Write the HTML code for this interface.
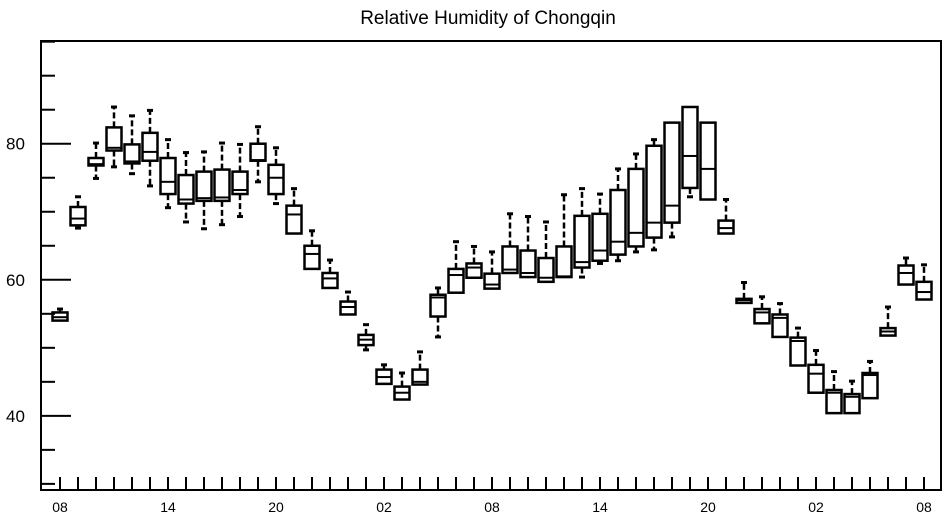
<!DOCTYPE html>
<html><head><meta charset="utf-8"><style>
html,body{margin:0;padding:0;background:#fff;}
svg{display:block;font-family:"Liberation Sans",sans-serif;}
</style></head><body>
<svg id="chart" width="947" height="520" viewBox="0 0 947 520" xmlns="http://www.w3.org/2000/svg">
<text x="488" y="24" text-anchor="middle" font-size="19">Relative Humidity of Chongqin</text>
<rect x="41" y="41" width="900" height="449" fill="none" stroke="#000" stroke-width="2"/>
<g id="axes"></g>
<g id="boxes"></g>
</svg>
<script>
const xLabels = ["08","14","20","02","08","14","20","02","08"];
const yTicks = [40,60,80];
const lows  = [54.0,67.6,74.9,76.6,75.6,73.8,70.6,68.5,67.5,68.1,69.3,74.4,71.2,66.8,61.6,58.8,54.9,49.7,44.7,42.4,44.6,51.6,58.1,60.3,58.7,61.0,60.4,59.7,60.4,60.4,62.4,62.8,64.1,64.4,66.3,72.2,71.8,66.8,56.6,53.6,51.6,47.4,43.4,40.4,40.4,42.6,51.8,59.3,57.1];
const q1s   = [54.0,68.0,76.8,79.0,77.1,77.5,72.6,71.2,71.6,71.6,72.6,77.5,72.6,66.8,61.6,58.8,54.9,50.4,44.7,42.4,44.6,54.6,58.1,60.3,58.7,61.0,60.4,59.7,60.4,61.8,62.8,63.7,64.9,66.2,68.4,73.5,71.8,66.8,56.6,53.6,51.6,47.4,43.4,40.4,40.4,42.6,51.8,59.3,57.1];
const medians=[54.5,69.0,77.0,79.4,77.4,78.8,74.4,71.8,72.0,72.1,73.2,77.6,75.0,69.6,63.8,60.2,56.0,51.2,45.7,43.4,45.0,57.4,60.7,61.8,59.3,61.5,61.0,60.3,60.5,62.6,64.3,65.6,66.9,68.4,70.9,78.2,76.3,67.6,57.0,55.2,54.4,51.0,46.2,43.4,42.8,46.0,52.4,61.0,58.2];
const q3s   = [55.2,70.7,77.9,82.4,79.9,81.6,77.9,75.4,75.9,76.2,75.9,80.0,76.9,70.9,65.0,61.0,56.8,51.9,46.8,44.3,46.8,57.8,61.6,62.4,60.9,64.9,64.3,63.2,64.9,69.4,69.7,73.2,76.3,79.7,83.1,85.4,83.1,68.7,57.2,55.7,54.9,51.5,47.5,43.8,43.2,46.3,52.9,62.1,59.7];
const highs = [55.7,72.2,80.1,85.4,84.1,84.9,80.6,78.7,78.8,80.1,79.9,82.5,79.4,73.4,67.2,62.9,58.2,53.4,47.5,46.3,49.4,58.8,65.6,64.9,64.1,69.7,69.3,68.5,72.5,73.4,72.6,76.3,78.5,80.6,82.9,85.1,83.0,71.8,59.6,57.5,56.5,52.9,49.6,46.5,45.1,48.0,56.0,63.2,62.2];

const NS="http://www.w3.org/2000/svg";
const yMin=29.1, yMax=95.1, plotTop=41, plotBot=490;
function ys(v){return plotBot-(v-yMin)/(yMax-yMin)*(plotBot-plotTop);}
function xs(i){return 60+18*i;}
function mk(parent,tag,attrs){const e=document.createElementNS(NS,tag);for(const k in attrs)e.setAttribute(k,attrs[k]);parent.appendChild(e);return e;}
const axes=document.getElementById('axes');
for(let v=30; v<=95; v+=5){
  const major = v%20===0;
  const t=mk(axes,'line',{x1:41,x2:major?71:55,y1:ys(v),y2:ys(v),stroke:'#000','stroke-width':2});
  
  
}
yTicks.forEach(v=>{
  const t=mk(axes,'text',{x:6,y:ys(v)+6,'font-size':17});
  t.textContent=v;
  
  
});
for(let i=0;i<lows.length;i++){
  const t=mk(axes,'line',{x1:xs(i),x2:xs(i),y1:477,y2:490,stroke:'#000','stroke-width':2});
  
  
}
xLabels.forEach((l,k)=>{
  const t=mk(axes,'text',{x:xs(k*6),y:512,'text-anchor':'middle','font-size':14});
  t.textContent=l;
  
  
});
const boxes=document.getElementById('boxes');
for(let i=0;i<lows.length;i++){
  const g=mk(boxes,'g',{});
  
  
  const x=xs(i), w=15;
  const lo=Math.min(lows[i],q1s[i]), hi=Math.max(highs[i],q3s[i]);
  if(hi>q3s[i]){
    mk(g,'line',{x1:x,x2:x,y1:ys(q3s[i]),y2:ys(hi),stroke:'#000','stroke-width':2.5,'stroke-dasharray':'6 3'});
    mk(g,'line',{x1:x-3,x2:x+3,y1:ys(hi),y2:ys(hi),stroke:'#000','stroke-width':3});
  }
  if(lo<q1s[i]){
    mk(g,'line',{x1:x,x2:x,y1:ys(q1s[i]),y2:ys(lo),stroke:'#000','stroke-width':2.5,'stroke-dasharray':'6 3'});
    mk(g,'line',{x1:x-3,x2:x+3,y1:ys(lo),y2:ys(lo),stroke:'#000','stroke-width':3});
  }
  const h=Math.max(ys(q1s[i])-ys(q3s[i]),1.5);
  mk(g,'rect',{x:x-w/2,y:ys(q3s[i]),width:w,height:h,fill:'none',stroke:'#000','stroke-width':2.5});
  mk(g,'line',{x1:x-w/2,x2:x+w/2,y1:ys(medians[i]),y2:ys(medians[i]),stroke:'#000','stroke-width':2});
}
</script>
</body></html>
